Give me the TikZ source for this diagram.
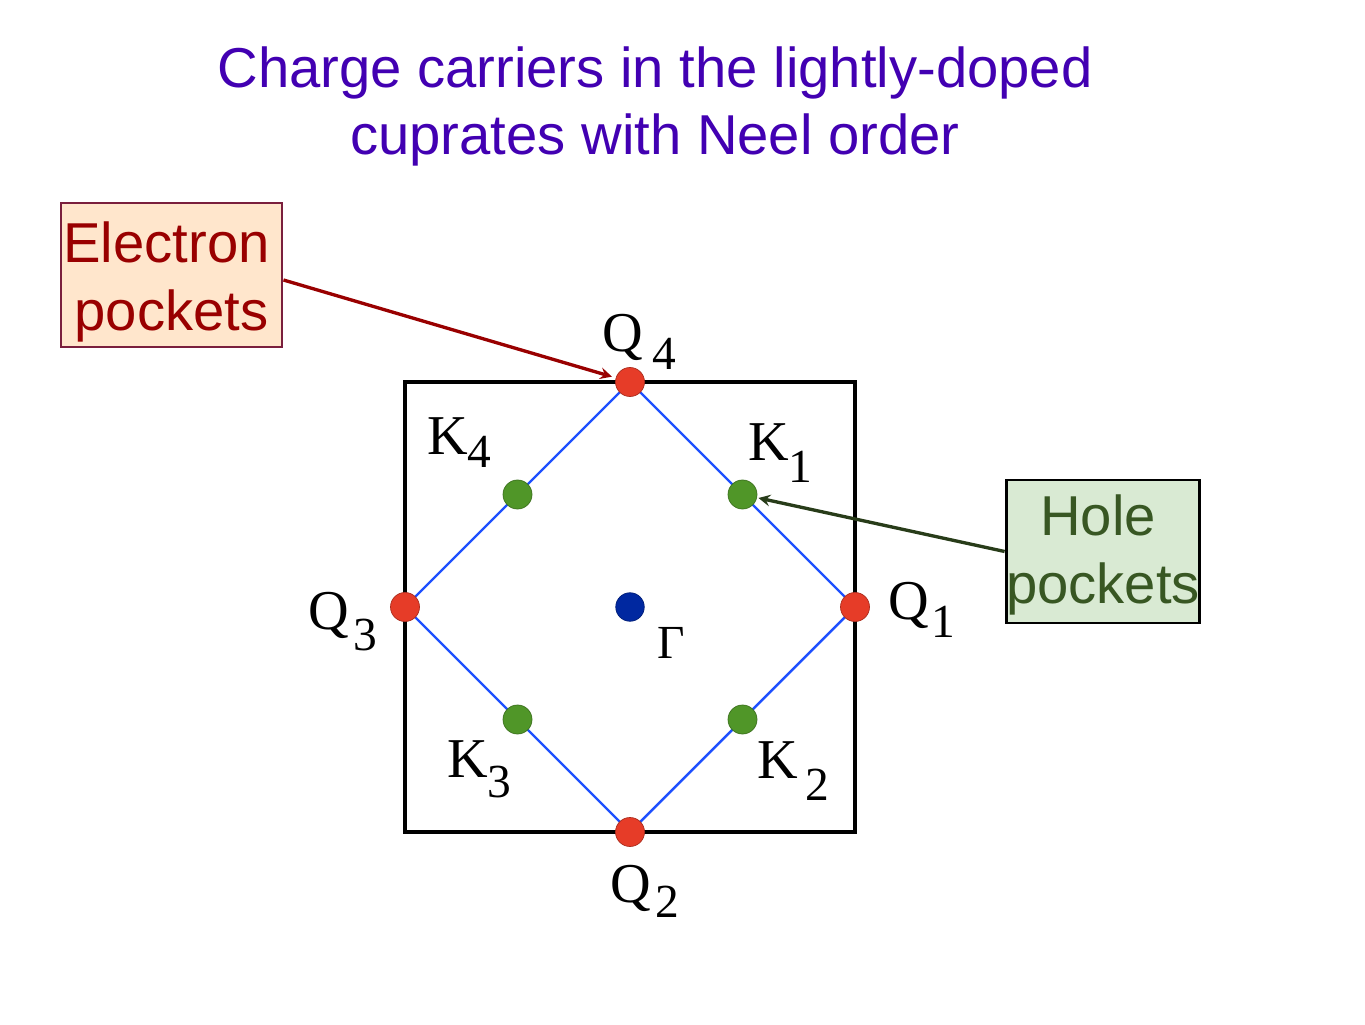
\documentclass[tikz,border=0pt]{standalone}
\usepackage{fontspec}
\setmainfont{Liberation Serif}
\newfontfamily\arial{Liberation Sans}
\usepackage{tikz}
\usetikzlibrary{arrows.meta}
\definecolor{titleblue}{RGB}{66,0,178}
\definecolor{elecred}{RGB}{153,0,0}
\definecolor{elecline}{RGB}{122,31,61}
\definecolor{elecfill}{RGB}{255,230,204}
\definecolor{holegreen}{RGB}{56,87,35}
\definecolor{holefill}{RGB}{217,234,211}
\definecolor{holeline}{RGB}{40,60,25}
\definecolor{zoneblue}{RGB}{30,80,255}
\definecolor{qred}{RGB}{230,60,40}
\definecolor{kgreen}{RGB}{80,150,40}
\definecolor{gblue}{RGB}{0,40,160}
\tikzset{>=stealth}
\tikzset{%
    dot/.style={circle, inner sep=0pt, draw=#1!75!black, fill=#1, line width=0.4pt},
    qdot/.style={dot=qred, minimum size=0.58cm},
    kdot/.style={dot=kgreen, minimum size=0.58cm},
    lbl/.style={anchor=base west, inner sep=0pt, font=\fontsize{32}{38}\selectfont},
    callout/.style={inner sep=0pt, line width=1.7pt, align=center,
        font=\arial\fontsize{32}{38.5}\selectfont}
}
\newcommand{\bzlab}[4]{#1\kern#3\raisebox{-#4}{\fontsize{27}{27}\selectfont #2}}

\begin{document}
\begin{tikzpicture}
\useasboundingbox (0,0) rectangle (27.3,20.48);

\node[anchor=base, text=titleblue, font=\arial\fontsize{32}{38}\selectfont] (title1) at (13.1,18.72) {Charge carriers in the lightly-doped};
\node[anchor=base, text=titleblue, font=\arial\fontsize{32}{38}\selectfont] (title2) at (13.1,17.38) {cuprates with Neel order};

\draw[line width=2.1pt] (8.1,3.84) rectangle (17.1,12.84);
\draw[zoneblue, line width=1.4pt] (12.6,12.84) -- (17.1,8.34) -- (12.6,3.84) -- (8.1,8.34) -- cycle;

\node[qdot] (Q4) at (12.6,12.84) {};
\node[qdot] (Q1) at (17.1,8.34) {};
\node[qdot] (Q2) at (12.6,3.84) {};
\node[qdot] (Q3) at (8.1,8.34) {};
\node[kdot] (K1) at (14.85,10.59) {};
\node[kdot] (K2) at (14.85,6.09) {};
\node[kdot] (K3) at (10.35,6.09) {};
\node[kdot] (K4) at (10.35,10.59) {};
\node[dot=gblue, minimum size=0.57cm] (G) at (12.6,8.34) {};

\node[lbl] (lQ4) at (12.04,13.44) {\bzlab{Q}{4}{0.2cm}{0.36cm}};
\node[lbl] (lK4) at (8.54,11.40) {\bzlab{K}{4}{0cm}{0.26cm}};
\node[lbl] (lK1) at (14.96,11.28) {\bzlab{K}{1}{0cm}{0.44cm}};
\node[lbl] (lQ1) at (17.76,8.10) {\bzlab{Q}{1}{0.05cm}{0.36cm}};
\node[lbl] (lQ3) at (6.16,7.90) {\bzlab{Q}{3}{0.1cm}{0.42cm}};
\node[lbl] (lK3) at (8.94,4.94) {\bzlab{K}{3}{0cm}{0.40cm}};
\node[lbl] (lQ2) at (12.20,2.44) {\bzlab{Q}{2}{0.1cm}{0.3cm}};
\node[lbl] (lK2) at (15.14,4.92) {\bzlab{K}{2}{0.16cm}{0.44cm}};
\node[lbl, font=\fontsize{27}{27}\selectfont] (lG) at (13.14,7.32) {Γ};

\node[callout, draw=elecline, fill=elecfill, text=elecred, minimum width=4.42cm, minimum height=2.88cm] (eb) at (3.43,14.98) {\rule{0pt}{1.1cm}Electron\kern0.2cm\\ pockets};
\node[callout, draw=black, fill=holefill, text=holegreen, minimum width=3.8cm, minimum height=2.86cm] (hb) at (22.06,9.45) {\rule{0pt}{0.95cm}Hole\kern0.2cm\\ pockets};

\draw[->, elecred, line width=1.9pt, shorten >=0.08cm] ([yshift=-0.1cm]eb.east) -- (Q4);
\draw[->, holeline, line width=1.9pt, shorten >=0.03cm] (hb.west) -- (K1);
\end{tikzpicture}
\end{document}
